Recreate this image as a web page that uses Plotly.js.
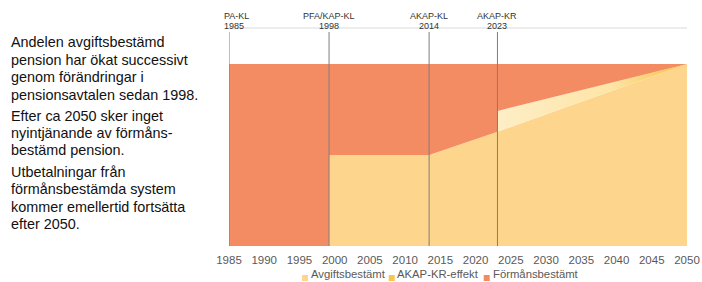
<!DOCTYPE html>
<html><head><meta charset="utf-8">
<script src="https://cdn.plot.ly/plotly-3.0.1.min.js"></script>
<style>html,body{margin:0;padding:0;background:#fff}#chart{width:702px;height:282px}</style>
</head><body><div id="chart"></div>
<script>
// ---- data ----
const years = [1985, 1999.2, 1999.2, 2013.4, 2023.1, 2023.1, 2050];
const avgiftsbestamt = [0, 0, 50, 50, 62.8, 62.8, 100];
const akapKrEffekt = [0, 0, 0, 0, 0, 11.4, 0];
const formansbestamt = [100, 100, 50, 50, 37.2, 25.8, 0];
const seriesNames = ['Avgiftsbestämt', 'AKAP-KR-effekt', 'Förmånsbestämt'];
const milestoneNames = ['PA-KL', 'PFA/KAP-KL', 'AKAP-KL', 'AKAP-KR'];
const milestoneYears = ['1985', '1998', '2014', '2023'];
const milestoneX = [1985, 1999.2, 2013.4, 2023.1];
const tickYears = [1985,1990,1995,2000,2005,2010,2015,2020,2025,2030,2035,2040,2045,2050];
const paragraphs = [
  ['Andelen avgiftsbestämd', 'pension har ökat successivt', 'genom förändringar i', 'pensionsavtalen sedan 1998.'],
  ['Efter ca 2050 sker inget', 'nyintjänande av förmåns-', 'bestämd pension.'],
  ['Utbetalningar från', 'förmånsbestämda system', 'kommer emellertid fortsätta', 'efter 2050.']
];

// ---- styles ----
const colors = ['#FDD58C', '#F7C64C', '#F38B63'];
const W = 702, H = 282, L = 229, R = 15, T = 64, B = 36;
const pw = W - L - R, ph = H - T - B;
const px = v => (v - L) / pw;
const py = v => (H - B - v) / ph;

const top1 = avgiftsbestamt.slice();
const top2 = top1.map((v, i) => v + akapKrEffekt[i]);
const top3 = top2.map((v, i) => v + formansbestamt[i]);

const traces = [
  {x: years, y: top1, name: seriesNames[0], mode: 'lines', line: {width: 0}, fill: 'tozeroy', fillcolor: colors[0], hoverinfo: 'skip', showlegend: false},
  {x: years, y: top2, name: seriesNames[1], mode: 'lines', line: {width: 0}, fill: 'tonexty', fillcolor: colors[1],
   fillgradient: {type: 'horizontal', start: 2023.1, stop: 2050, colorscale: [[0, '#FEEEC6'], [0.6, '#FDE5A6'], [1, '#F6C13F']]},
   hoverinfo: 'skip', showlegend: false},
  {x: years, y: top3, name: seriesNames[2], mode: 'lines', line: {width: 0}, fill: 'tonexty', fillcolor: colors[2], hoverinfo: 'skip', showlegend: false}
];

const font = 'Liberation Sans, Arial, sans-serif';
const annotations = [];
const shapes = [];

// milestone lines + labels
milestoneX.forEach((xv, i) => {
  shapes.push({type: 'line', xref: 'x', yref: 'paper', x0: xv, x1: xv, y0: 0, y1: py(32), line: {color: '#7F7F7F', width: 1}});
  const first = i === 0;
  const xpos = first ? 1985 : xv;
  annotations.push({xref: 'x', yref: 'paper', x: xpos, xshift: first ? -7.5 : 0, y: py(15.5), xanchor: first ? 'left' : 'center', yanchor: 'middle',
    text: milestoneNames[i], showarrow: false, font: {family: font, size: 9, color: '#333333'}});
  annotations.push({xref: 'x', yref: 'paper', x: xpos, xshift: first ? -7.5 : 0, y: py(25.5), xanchor: first ? 'left' : 'center', yanchor: 'middle',
    text: milestoneYears[i], showarrow: false, font: {family: font, size: 9, color: '#333333'}});
});
shapes.push({type: 'line', xref: 'paper', yref: 'paper', x0: 0, x1: 1, y0: py(28), y1: py(28), line: {color: '#D9D9D9', width: 1}, layer: 'below'});

// left text
const baselines = [[47, 65, 82, 100], [121, 138, 155], [176.7, 194, 211.7, 229]];
paragraphs.forEach((p, pi) => p.forEach((line, li) => {
  annotations.push({xref: 'paper', yref: 'paper', x: px(9), y: py(baselines[pi][li] - 5), xanchor: 'left', yanchor: 'middle',
    text: line, showarrow: false, font: {family: font, size: 14.4, color: '#111111'}});
}));

// legend (manual)
const legSq = [305, 391.7, 486.7];
const legTx = [309.5, 396, 491.5];
seriesNames.forEach((n, i) => {
  shapes.push({type: 'rect', xref: 'paper', yref: 'paper', x0: px(legSq[i] - 3), x1: px(legSq[i] + 3), y0: py(281), y1: py(275), fillcolor: colors[i], line: {width: 0}});
  annotations.push({xref: 'paper', yref: 'paper', x: px(legTx[i]), y: py(274.3), xanchor: 'left', yanchor: 'middle', text: n, showarrow: false, borderpad: 0,
    font: {family: font, size: 11.3, color: '#595959'}});
});

const layout = {
  width: W, height: H,
  margin: {l: L, r: R, t: T, b: B, pad: 0},
  paper_bgcolor: '#ffffff', plot_bgcolor: '#ffffff',
  showlegend: false,
  xaxis: {range: [1985, 2050], tickvals: tickYears, ticktext: tickYears.map(String), showgrid: false, zeroline: false, showline: false,
    ticks: 'outside', ticklen: 3, tickcolor: 'rgba(0,0,0,0)', tickfont: {family: font, size: 11.5, color: '#595959'}, fixedrange: true},
  yaxis: {range: [0, 100], tickvals: [100], showticklabels: false, showgrid: true, gridcolor: '#D9D9D9', zeroline: false, showline: false, fixedrange: true},
  shapes: shapes,
  annotations: annotations
};

Plotly.newPlot('chart', traces, layout, {displayModeBar: false, staticPlot: true});
</script>
</body></html>
